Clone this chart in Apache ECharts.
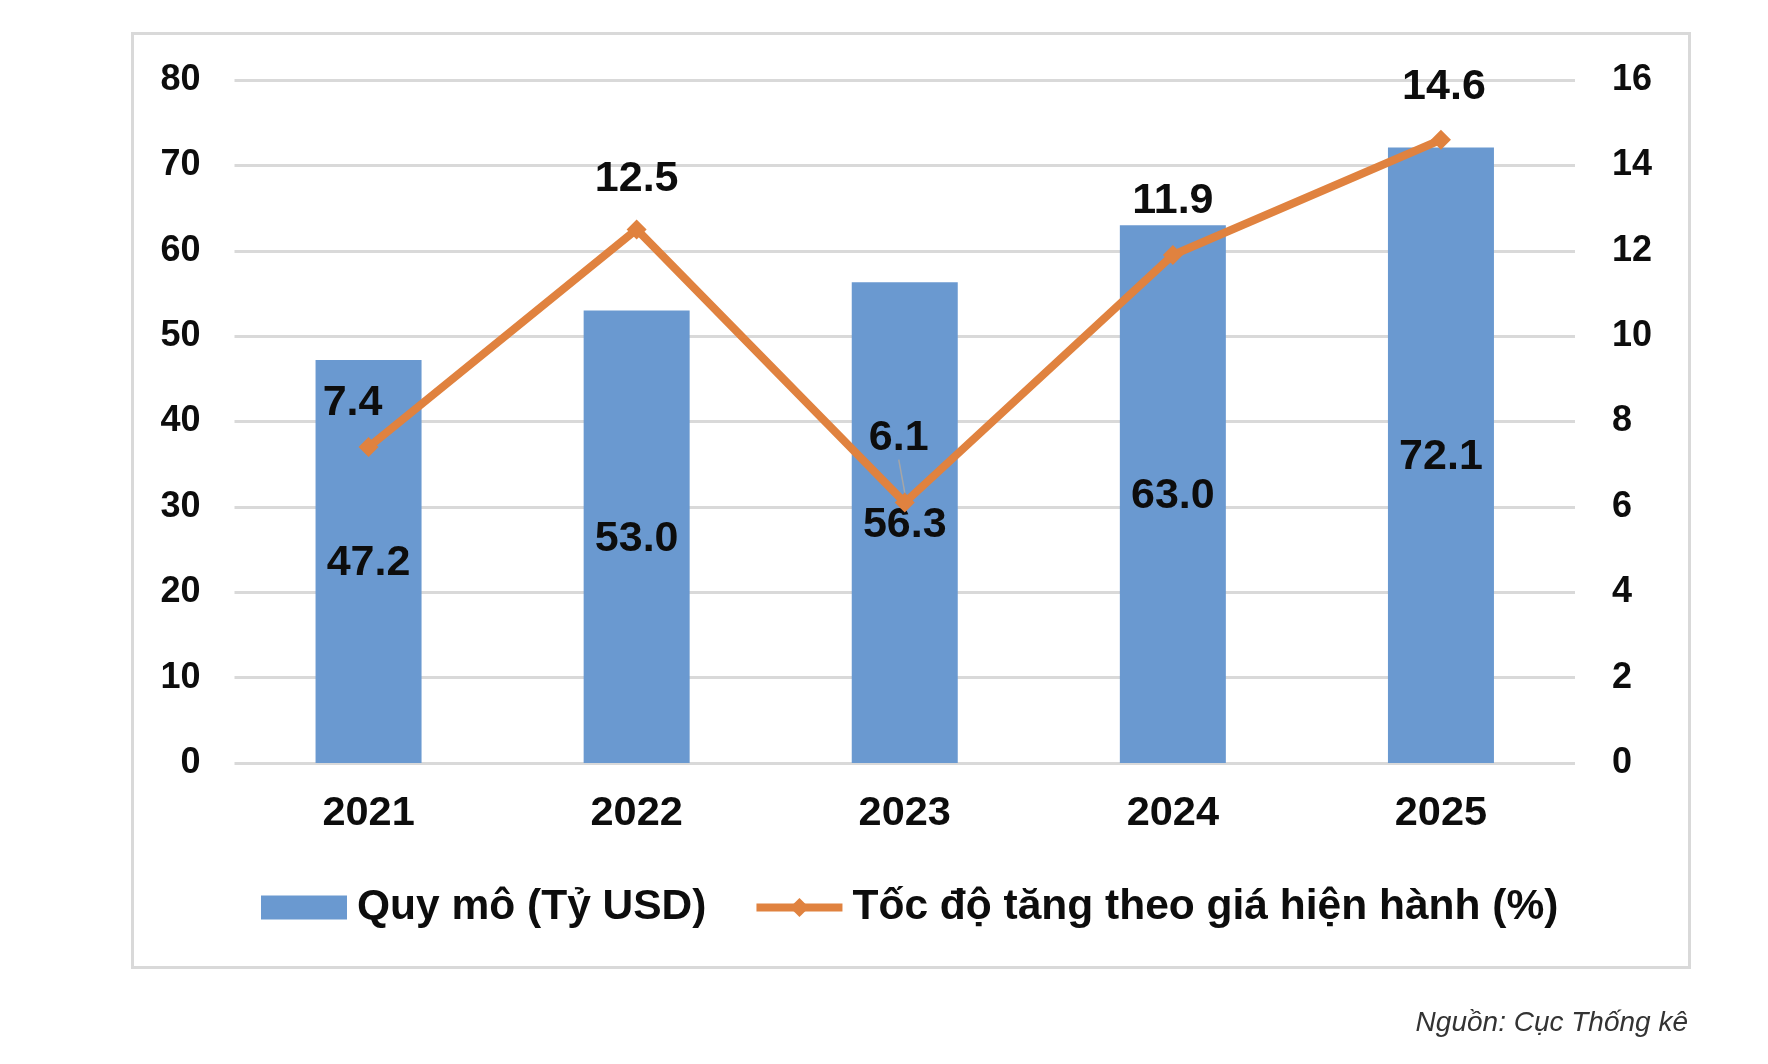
<!DOCTYPE html>
<html>
<head>
<meta charset="utf-8">
<script src="https://cdn.jsdelivr.net/npm/echarts@6/dist/echarts.min.js"></script>
<style>
html,body{margin:0;padding:0;background:#fff;}
#chart{width:1768px;height:1064px;}
</style>
</head>
<body>
<div id="chart"></div>
<script>
// ---- Data ----
const categories = ['2021', '2022', '2023', '2024', '2025'];
const scaleValues = [47.2, 53.0, 56.3, 63.0, 72.1];        // Quy mô (Tỷ USD)
const growthValues = [7.4, 12.5, 6.1, 11.9, 14.6];         // Tốc độ tăng theo giá hiện hành (%)
const seriesNames = ['Quy mô (Tỷ USD)', 'Tốc độ tăng theo giá hiện hành (%)'];
const sourceText = 'Nguồn: Cục Thống kê';

// ---- Styling ----
const FONT = '"Liberation Sans", Arial, sans-serif';
const BAR_COLOR = '#6a99d0';
const LINE_COLOR = '#e0823f';
const GRID_COLOR = '#d9d9d9';
const TEXT_COLOR = '#0d0d0d';
const growthLabelShift = [[-16, 9], [0, 2], [-6, -12], [0, -1], [3, 0]];

const chart = echarts.init(document.getElementById('chart'), null, {renderer: 'canvas'});

const option = {
  backgroundColor: '#ffffff',
  animation: false,
  textStyle: {fontFamily: FONT},
  grid: {left: 234.5, right: 193, top: 80, bottom: 301, containLabel: false},
  legend: {
    left: 256,
    top: 881,
    itemWidth: 86,
    itemHeight: 24,
    itemGap: 46,
    textStyle: {fontFamily: FONT, fontSize: 42.5, fontWeight: 'bold', color: TEXT_COLOR, padding: [0, 0, 0, 5]},
    data: [
      {name: seriesNames[0], icon: 'rect', itemStyle: {color: BAR_COLOR}},
      {name: seriesNames[1], lineStyle: {width: 8, color: LINE_COLOR}, itemStyle: {color: LINE_COLOR}}
    ]
  },
  xAxis: {
    type: 'category',
    data: categories,
    axisLine: {show: false},
    axisTick: {show: false},
    axisLabel: {fontFamily: FONT, fontSize: 41.5, fontWeight: 'bold', color: TEXT_COLOR, margin: 30}
  },
  yAxis: [
    {
      type: 'value', min: 0, max: 80, interval: 10,
      axisLine: {show: false}, axisTick: {show: false},
      axisLabel: {fontFamily: FONT, fontSize: 36, fontWeight: 'bold', color: TEXT_COLOR, margin: 34},
      splitLine: {show: true, lineStyle: {color: GRID_COLOR, width: 3}}
    },
    {
      type: 'value', min: 0, max: 16, interval: 2,
      axisLine: {show: false}, axisTick: {show: false},
      axisLabel: {fontFamily: FONT, fontSize: 36, fontWeight: 'bold', color: TEXT_COLOR, margin: 37},
      splitLine: {show: false}
    }
  ],
  series: [
    {
      name: seriesNames[0],
      type: 'bar',
      yAxisIndex: 0,
      barWidth: 106,
      data: scaleValues,
      itemStyle: {color: BAR_COLOR},
      label: {
        show: true, position: 'inside', offset: [0, 2],
        fontFamily: FONT, fontSize: 43, fontWeight: 'bold', color: TEXT_COLOR,
        formatter: p => p.value.toFixed(1)
      },
      z: 2
    },
    {
      name: seriesNames[1],
      type: 'line',
      yAxisIndex: 1,
      data: growthValues.map((v, i) => i === 2 ? {value: v, labelLine: {show: true, lineStyle: {color: '#a6a6a6', width: 1.5}}} : v),
      symbol: 'diamond',
      symbolSize: 20,
      lineStyle: {color: LINE_COLOR, width: 8},
      itemStyle: {color: LINE_COLOR},
      label: {
        show: true, position: 'top', distance: 21,
        fontFamily: FONT, fontSize: 43, fontWeight: 'bold', color: TEXT_COLOR,
        formatter: p => Number(p.value).toFixed(1)
      },
      labelLine: {show: false},
      labelLayout: function (params) {
        const s = growthLabelShift[params.dataIndex];
        return {dx: s[0], dy: s[1]};
      },
      z: 5
    }
  ],
  graphic: [
    {
      type: 'rect',
      left: 130, top: 31,
      shape: {width: 1557, height: 934},
      style: {fill: 'none', stroke: '#d9d9d9', lineWidth: 3},
      silent: true, z: -1
    },
    {
      type: 'text',
      right: 1768 - 1688, top: 1009,
      style: {text: sourceText, font: 'italic 28px ' + FONT, fill: '#333333'}
    }
  ]
};

chart.setOption(option);
</script>
</body>
</html>
